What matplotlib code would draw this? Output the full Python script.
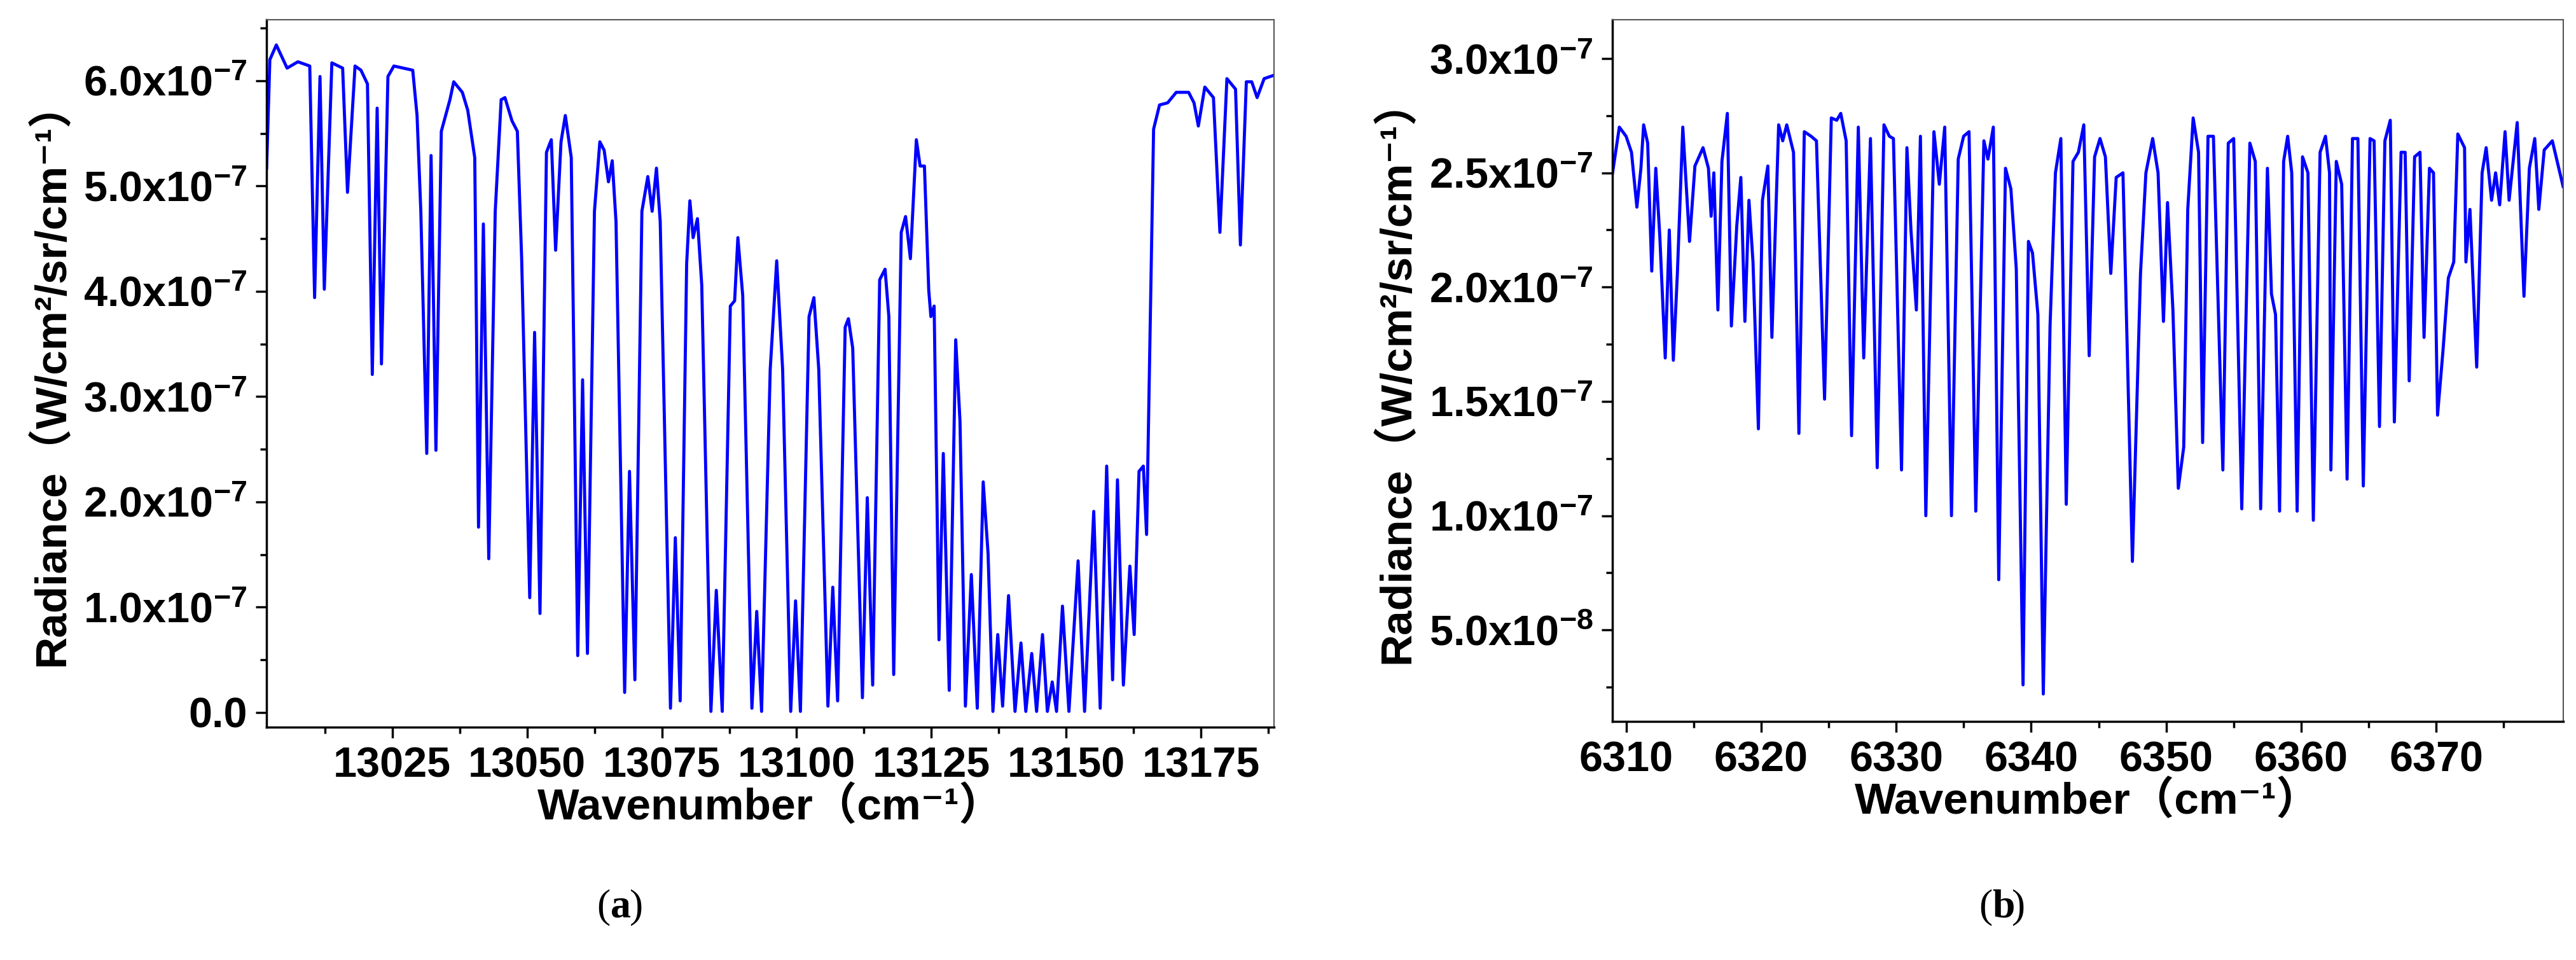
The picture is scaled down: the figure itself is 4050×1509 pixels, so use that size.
import matplotlib
matplotlib.use("Agg")
import matplotlib.pyplot as plt
from matplotlib.ticker import MultipleLocator
import numpy as np

plt.rcParams['mathtext.fontset'] = 'custom'
plt.rcParams['mathtext.rm'] = 'Liberation Sans:bold'
plt.rcParams['mathtext.it'] = 'Liberation Sans:bold'
plt.rcParams['mathtext.bf'] = 'Liberation Sans:bold'
plt.rcParams['mathtext.default'] = 'rm'

# Panel (a): wavenumber (cm-1) and radiance (1e-7 W/cm2/sr/cm-1)
wn_a = [13001.7,13002.3,13003.5,13005.5,13007.5,13009.7,13010.6,13011.6,13012.4,13013.8,13015.8,13016.7,13018.1,13019.2,13020.4,
        13021.3,13022.2,13023.0,13024.2,13025.3,13028.8,13029.6,13030.3,13031.4,13032.2,13033.1,13034.1,13035.7,13036.4,13038.0,
        13039.0,13040.3,13041.0,13041.9,13042.9,13044.1,13045.2,13045.9,13047.2,13048.2,13049.0,13050.5,13051.4,13052.4,13053.6,
        13054.5,13055.3,13056.3,13057.1,13058.2,13059.4,13060.3,13061.2,13062.5,13063.5,13064.3,13065.1,13065.8,13066.5,13068.1,
        13069.0,13070.0,13071.3,13072.4,13073.2,13074.0,13074.7,13076.6,13077.5,13078.4,13079.6,13080.2,13080.8,13081.6,13082.4,
        13084.1,13085.1,13086.2,13087.7,13088.5,13089.1,13090.0,13091.7,13092.6,13093.5,13095.1,13096.3,13097.4,13098.9,13099.8,
        13100.7,13102.3,13103.2,13104.1,13105.8,13106.7,13107.6,13109.0,13109.6,13110.4,13112.2,13113.1,13114.1,13115.4,13116.4,
        13117.1,13118.0,13119.4,13120.2,13121.1,13122.2,13122.9,13123.7,13124.5,13124.9,13125.5,13126.4,13127.2,13128.3,13129.5,
        13130.3,13131.3,13132.4,13133.5,13134.6,13135.5,13136.4,13137.3,13138.2,13139.3,13140.5,13141.6,13142.5,13143.6,13144.5,
        13145.6,13146.5,13147.4,13148.2,13149.3,13150.5,13152.2,13153.4,13155.1,13156.3,13157.5,13158.6,13159.5,13160.6,13161.8,
        13162.6,13163.5,13164.3,13164.9,13165.6,13166.2,13167.3,13168.8,13170.4,13172.7,13173.7,13174.5,13175.7,13177.3,13178.5,
        13179.8,13181.4,13182.3,13183.4,13184.4,13185.4,13186.7,13188.4]
rad_a = [5.17,6.20,6.34,6.12,6.18,6.14,3.94,6.04,4.02,6.17,6.12,4.94,6.14,6.10,5.97,
         3.21,5.74,3.31,6.04,6.14,6.10,5.67,4.76,2.46,5.29,2.49,5.52,5.82,5.99,5.89,
         5.72,5.27,1.76,4.64,1.46,4.76,5.82,5.84,5.62,5.52,4.31,1.09,3.61,0.94,5.32,
         5.44,4.39,5.42,5.67,5.27,0.54,3.16,0.56,4.76,5.42,5.34,5.04,5.24,4.66,0.19,
         2.29,0.31,4.76,5.09,4.76,5.17,4.66,0.04,1.66,0.11,4.26,4.86,4.51,4.69,4.06,
         0.01,1.16,0.01,3.86,3.91,4.51,3.96,0.04,0.96,0.01,3.26,4.29,3.26,0.01,1.06,
         0.01,3.76,3.94,3.26,0.06,1.19,0.11,3.66,3.74,3.46,0.14,2.04,0.26,4.11,4.21,
         3.76,0.36,4.56,4.71,4.31,5.44,5.19,5.19,4.01,3.76,3.86,0.69,2.46,0.21,3.54,
         2.76,0.06,1.31,0.04,2.19,1.51,0.01,0.74,0.06,1.11,0.01,0.66,0.01,0.56,0.01,
         0.74,0.01,0.29,0.01,1.01,0.01,1.44,0.01,1.91,0.04,2.34,0.31,2.21,0.26,1.39,
         0.74,2.29,2.34,1.69,3.76,5.54,5.77,5.79,5.89,5.89,5.79,5.57,5.94,5.84,4.56,
         6.02,5.92,4.44,5.99,5.99,5.84,6.02,6.05]

# Panel (b)
wn_b = [6309.0,6309.5,6310.0,6310.4,6310.8,6311.1,6311.3,6311.6,6311.9,6312.2,6312.5,6312.9,6313.2,6313.5,6313.8,
        6314.2,6314.7,6315.1,6315.7,6316.1,6316.3,6316.5,6316.8,6317.1,6317.5,6317.8,6318.2,6318.5,6318.8,6319.1,6319.4,
        6319.8,6320.1,6320.5,6320.8,6321.3,6321.6,6321.9,6322.4,6322.8,6323.2,6323.7,6324.1,6324.7,6325.2,6325.6,6325.9,6326.3,
        6326.7,6327.2,6327.6,6328.1,6328.6,6329.1,6329.5,6329.8,6330.4,6330.8,6331.1,6331.5,6331.8,6332.2,6332.8,6333.2,6333.6,
        6334.1,6334.6,6335.0,6335.4,6335.9,6336.5,6336.8,6337.2,6337.6,6338.1,6338.5,6338.9,6339.4,6339.8,6340.1,6340.5,
        6340.9,6341.4,6341.8,6342.2,6342.6,6343.1,6343.5,6343.9,6344.3,6344.7,6345.1,6345.5,6345.9,6346.3,6346.8,
        6347.5,6348.1,6348.5,6349.0,6349.4,6349.8,6350.1,6350.5,6350.9,6351.3,6351.6,6352.0,6352.4,6352.7,6353.1,6353.5,
        6354.2,6354.6,6355.0,6355.6,6356.2,6356.6,6357.0,6357.5,6357.8,6358.1,6358.4,6358.7,6359.0,6359.3,6359.7,6360.1,6360.5,
        6360.9,6361.4,6361.8,6362.1,6362.2,6362.6,6363.0,6363.4,6363.8,6364.2,6364.6,6365.1,6365.4,6365.8,6366.2,6366.6,
        6366.9,6367.4,6367.7,6368.0,6368.4,6368.8,6369.1,6369.5,6369.8,6370.1,6370.5,6370.9,6371.3,6371.6,6372.1,6372.2,6372.5,
        6373.0,6373.4,6373.7,6374.1,6374.4,6374.7,6375.1,6375.4,6376.0,6376.5,6376.9,6377.3,6377.6,6378.0,6378.6,6379.4]
rad_b = [2.50,2.70,2.66,2.59,2.35,2.52,2.71,2.63,2.07,2.52,2.22,1.69,2.25,1.68,2.06,
         2.70,2.20,2.53,2.61,2.52,2.31,2.50,1.90,2.55,2.76,1.83,2.27,2.48,1.85,2.38,2.11,
         1.38,2.38,2.53,1.78,2.71,2.64,2.71,2.59,1.36,2.68,2.66,2.64,1.51,2.74,2.73,2.76,2.64,
         1.35,2.70,1.69,2.65,1.21,2.71,2.66,2.65,1.20,2.61,2.25,1.90,2.66,1.00,2.68,2.45,2.70,
         1.00,2.56,2.66,2.68,1.02,2.64,2.56,2.70,0.72,2.52,2.43,2.08,0.26,2.20,2.15,1.88,
         0.22,1.83,2.50,2.65,1.05,2.55,2.59,2.71,1.70,2.57,2.65,2.57,2.06,2.48,2.50,
         0.80,2.06,2.50,2.65,2.50,1.85,2.37,1.90,1.12,1.30,2.34,2.74,2.59,1.32,2.66,2.66,
         1.20,2.63,2.65,1.03,2.63,2.55,1.03,2.52,1.97,1.88,1.02,2.55,2.66,2.50,1.02,2.57,2.50,
         0.98,2.59,2.66,2.50,1.20,2.55,2.45,1.16,2.65,2.65,1.13,2.65,2.64,1.39,2.64,2.73,
         1.41,2.59,2.59,1.59,2.57,2.59,1.78,2.52,2.50,1.44,1.72,2.04,2.11,2.67,2.61,2.11,2.34,
         1.65,2.50,2.61,2.38,2.50,2.36,2.68,2.38,2.72,1.96,2.52,2.65,2.34,2.60,2.64,2.44]

xt_a = [13025, 13050, 13075, 13100, 13125, 13150, 13175]
yt_a = [0.0, 1.0, 2.0, 3.0, 4.0, 5.0, 6.0]
xt_b = [6310, 6320, 6330, 6340, 6350, 6360, 6370]
yt_b = [0.5, 1.0, 1.5, 2.0, 2.5, 3.0]

SC = 1e-7

def fmt(m):
    if abs(m) < 1e-9:
        return "0.0"
    if m < 0.999:
        return r"%.1fx10$^{-8}$" % (m * 10)
    return r"%.1fx10$^{-7}$" % m

fig = plt.figure(figsize=(40.5, 15.09), dpi=100)
ax1 = fig.add_axes([0.1035, 0.2425, 0.391, 0.737])
ax2 = fig.add_axes([0.626, 0.2485, 0.369, 0.731])

tickfont = dict(family='Liberation Sans', weight='bold', size=48)
labfam = ['Liberation Sans', 'Noto Sans CJK SC', 'DejaVu Sans']
ylab = "Radiance（W/cm²/sr/cm⁻¹）"
xlab = "Wavenumber（cm⁻¹）"

def style(ax, xt, yt):
    ax.tick_params(which='both', direction='out', top=False, right=False, width=2.5)
    ax.tick_params(which='major', length=12, pad=10)
    ax.tick_params(which='minor', length=7)
    for s in ['left', 'bottom']:
        ax.spines[s].set_linewidth(2.5)
        ax.spines[s].set_color('black')
    for s in ['top', 'right']:
        ax.spines[s].set_linewidth(1.5)
        ax.spines[s].set_color('#555555')
    ax.set_xticks(xt)
    ax.set_xticklabels([str(v) for v in xt], **tickfont)
    ax.set_yticks([v * SC for v in yt])
    ax.set_yticklabels([fmt(v) for v in yt], **tickfont)
    ax.set_xlabel(xlab, family=labfam, weight='bold', fontsize=50, labelpad=0)
    ax.set_ylabel(ylab, family=labfam, weight='bold', fontsize=50, labelpad=12)

ax1.plot(wn_a, np.array(rad_a) * SC, color='#0000ff', lw=3.5, solid_joinstyle='round')
ax1.set_xlim(13001.7, 13188.5)
ax1.set_ylim(-0.14 * SC, 6.58 * SC)
ax1.xaxis.set_minor_locator(MultipleLocator(12.5))
ax1.yaxis.set_minor_locator(MultipleLocator(0.5 * SC))
style(ax1, xt_a, yt_a)

ax2.plot(wn_b, np.array(rad_b) * SC, color='#0000ff', lw=3.5, solid_joinstyle='round')
ax2.set_xlim(6309.0, 6379.4)
ax2.set_ylim(0.10 * SC, 3.17 * SC)
ax2.xaxis.set_minor_locator(MultipleLocator(5))
ax2.yaxis.set_minor_locator(MultipleLocator(0.25 * SC))
style(ax2, xt_b, yt_b)

for x0, letter in [(0.237, "a"), (0.7735, "b")]:
    fig.text(x0, 0.045, "(", family='Liberation Serif', fontsize=46, ha='right')
    fig.text(x0, 0.045, letter, family='Liberation Serif', fontsize=46, weight='bold', ha='left')
    fig.text(x0 + 0.0075, 0.045, ")", family='Liberation Serif', fontsize=46, ha='left')

fig.savefig("out.png", dpi=100, facecolor='white')
